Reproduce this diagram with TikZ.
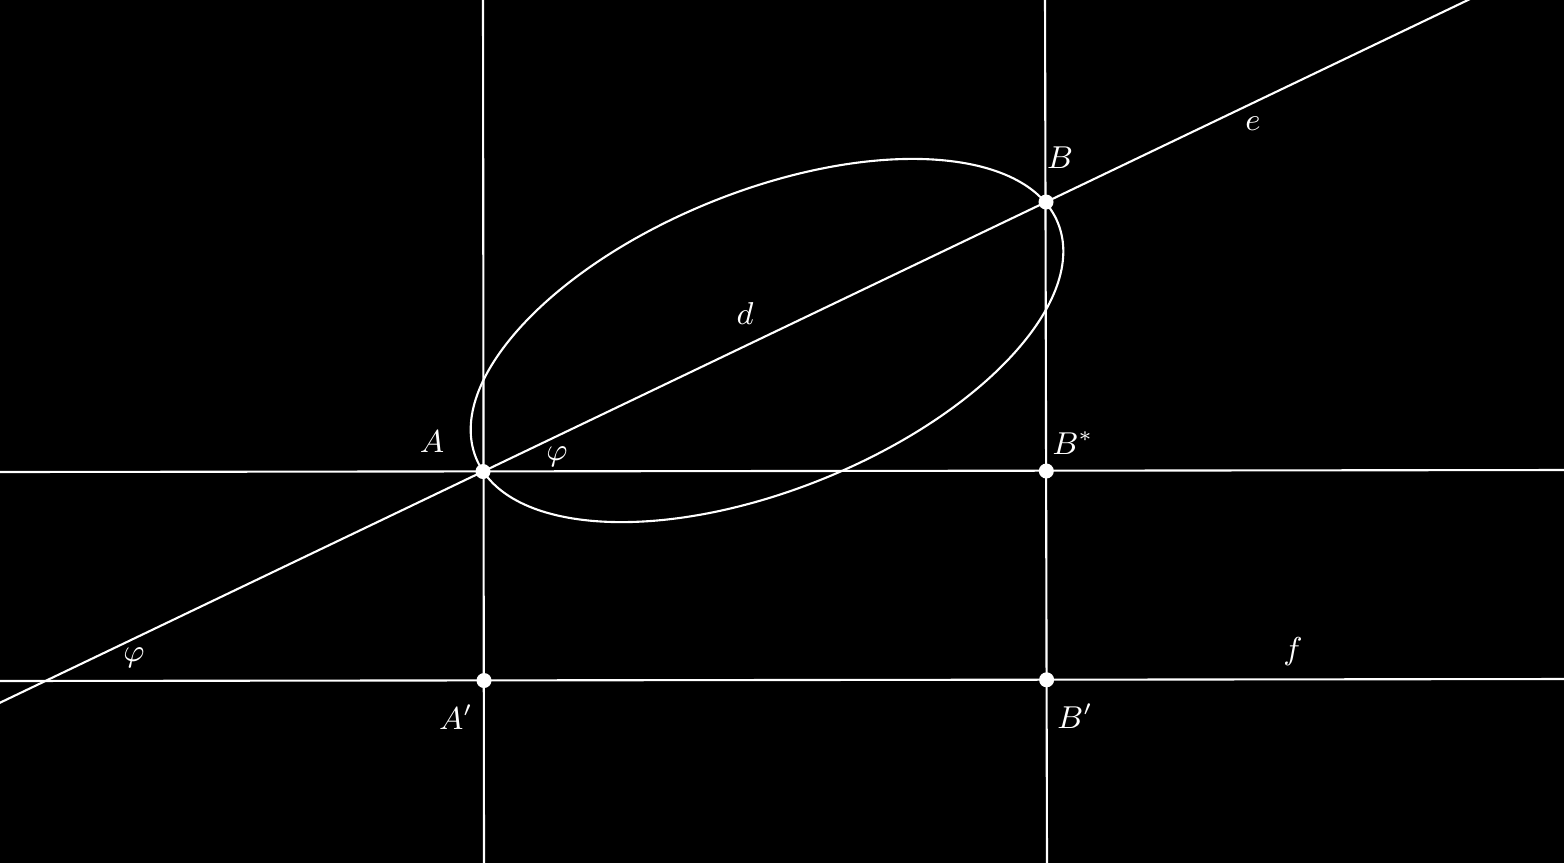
\documentclass[tikz,border=0pt]{standalone}
\usetikzlibrary{calc}
\begin{document}
\begin{tikzpicture}[x=0.01cm,y=-0.01cm,
  ln/.style={white,line width=0.6pt},
  pt/.style={circle,fill=white,inner sep=0pt,minimum size=0.15cm},
  lab/.style={white,font=\fontsize{9.2}{11}\selectfont,inner sep=0pt}]
\fill[black] (0,0) rectangle (1564,863);
\useasboundingbox (0,0) rectangle (1564,863);
\clip (0,0) rectangle (1564,863);
% points
\coordinate (A) at (483,471.5);
\coordinate (B) at (1046,202);
\coordinate (Bs) at (1046.3,471);
\coordinate (Ap) at (484,680.5);
\coordinate (Bp) at (1046.6,679.8);
\coordinate (C) at (767,340.5);
% construction lines
\coordinate (v1t) at (483,-5); \coordinate (v1b) at (484,870);
\coordinate (v2t) at (1045,-5); \coordinate (v2b) at (1047,870);
\coordinate (h1l) at (-5,472); \coordinate (h1r) at (1570,470);
\coordinate (h2l) at (-5,681); \coordinate (h2r) at (1570,679);
\draw[ln] (v1t) -- (v1b);
\draw[ln] (v2t) -- (v2b);
\draw[ln] (h1l) -- (h1r);
\draw[ln] (h2l) -- (h2r);
\draw[ln] ($(A)!-1!(B)$) -- ($(A)!2!(B)$);
% ellipse
\draw[ln,rotate around={22:(C)}] (C) ellipse (3.136cm and 1.492cm);
% dots
\node[pt] (nA) at (A) {};
\node[pt] (nB) at (B) {};
\node[pt] (nBs) at (Bs) {};
\node[pt] (nAp) at (Ap) {};
\node[pt] (nBp) at (Bp) {};
% labels
\node[lab] (lA) at (432,442) {$A$};
\node[lab] (lB) at (1060,158) {$B$};
\node[lab] (lBs) at (1073,443) {$B^*$};
\node[lab] (lAp) at (456,717) {$A'$};
\node[lab] (lBp) at (1075,716) {$B'$};
\node[lab] (ld) at (745,313) {$d$};
\node[lab] (le) at (1253,124) {$e$};
\node[lab] (lf) at (1293,652) {$f$};
\node[lab] (lphi1) at (557,457) {$\varphi$};
\node[lab] (lphi2) at (134,658) {$\varphi$};
\end{tikzpicture}
\end{document}
